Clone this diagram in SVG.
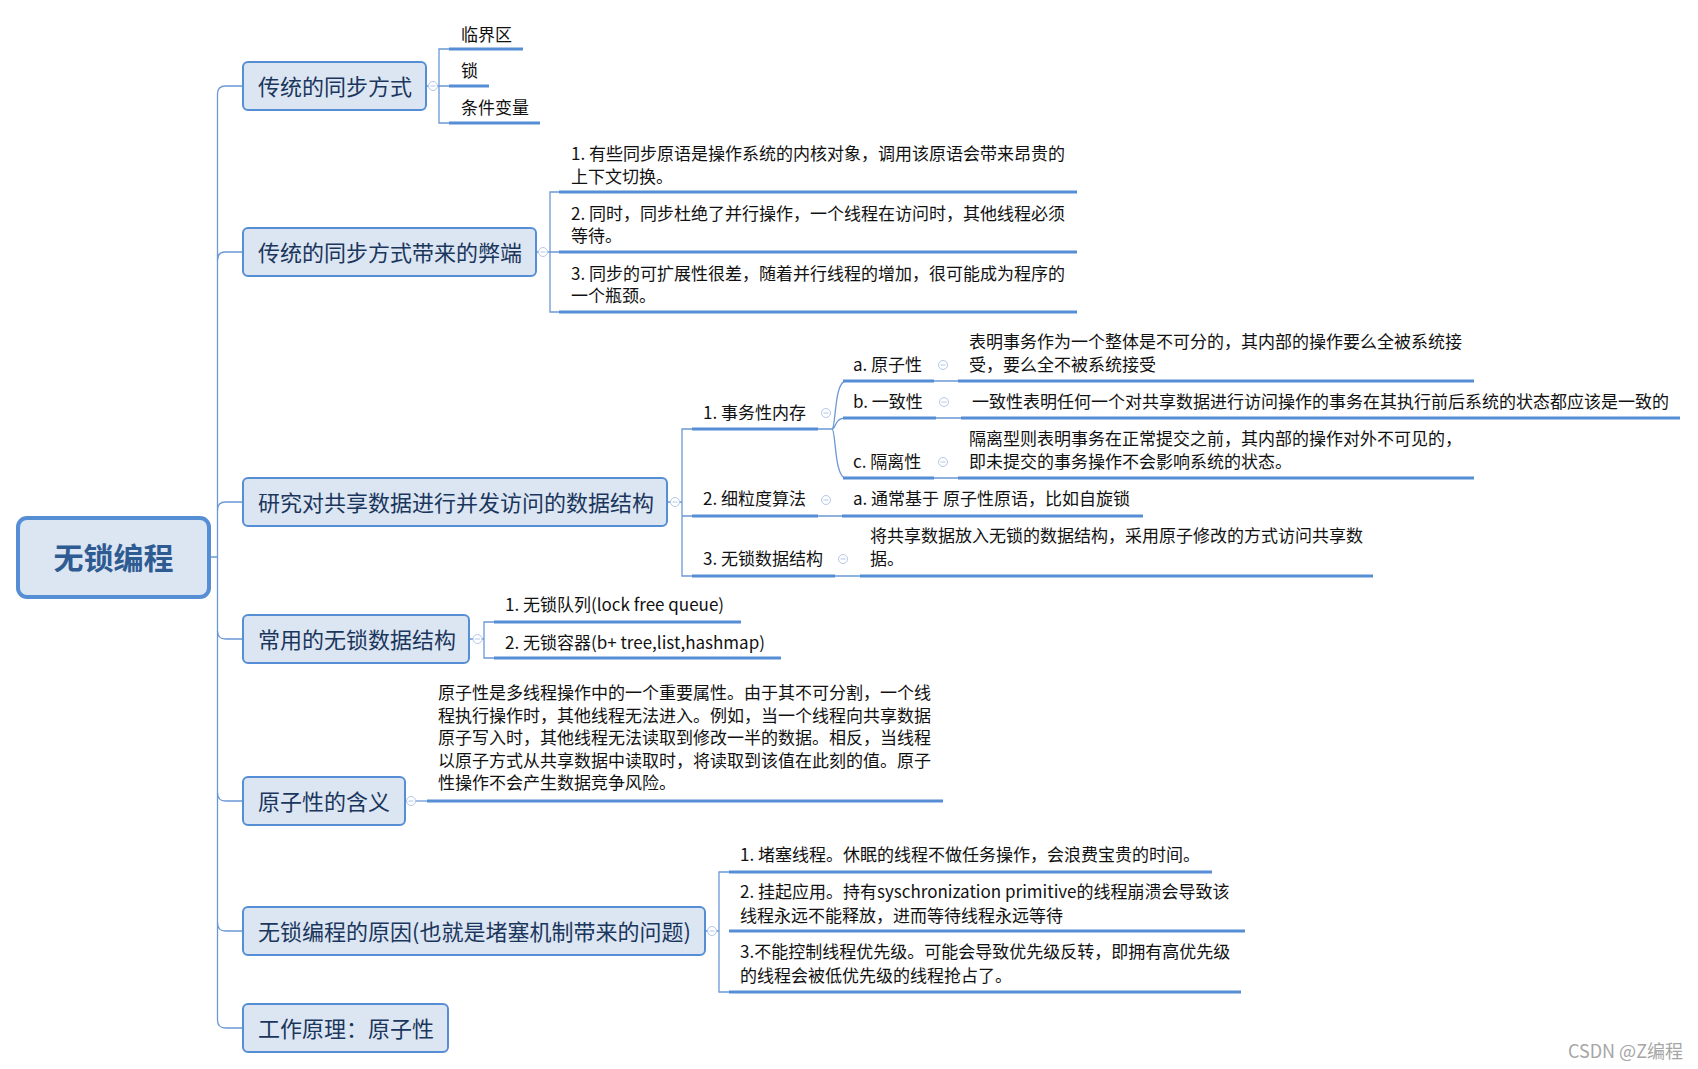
<svg xmlns="http://www.w3.org/2000/svg" width="1698" height="1069" viewBox="0 0 1698 1069">
<style>
text{font-family:"Noto Sans CJK SC","Microsoft YaHei",sans-serif}
.root{fill:#dce6f2;stroke:#558ed5;stroke-width:4}
.box{fill:#dce6f2;stroke:#558ed5;stroke-width:2}
.rt{font-size:30px;font-weight:bold;fill:#2f5b93;text-anchor:middle}
.bt{font-size:22px;fill:#1b365d}
.t{font-size:17px;fill:#111}
.ul{stroke:#558ed5;stroke-width:3;fill:none}
.ln{stroke:#6b98d6;stroke-width:1.3;fill:none}
.col{fill:#fff;stroke:#b4c7e7;stroke-width:1}
.wm{font-size:18px;fill:#a6a6a6;text-anchor:end}
</style>
<defs>
<g id="c"><circle class="col" r="4.5"/><line x1="-2.5" x2="2.5" stroke="#b4c7e7" stroke-width="1"/></g>
</defs>
<g id="connectors">
<path class="ln" d="M209,557 H217.5 M217.5,94 V1020"/>
<path class="ln" d="M217.5,94 Q217.5,86 225.5,86 H243"/>
<path class="ln" d="M217.5,260 Q217.5,252 225.5,252 H243"/>
<path class="ln" d="M217.5,510 Q217.5,502 225.5,502 H243"/>
<path class="ln" d="M217.5,631 Q217.5,639 225.5,639 H243"/>
<path class="ln" d="M217.5,793 Q217.5,801 225.5,801 H243"/>
<path class="ln" d="M217.5,923 Q217.5,931 225.5,931 H243"/>
<path class="ln" d="M217.5,1020 Q217.5,1028 225.5,1028 H243"/>
<path class="ln" d="M449,49 H439 V123 H449 M426,86 H449"/>
<path class="ln" d="M559,192 H550 V312 H559 M536,252 H559"/>
<path class="ln" d="M692,429 H682 V576 H692 M667,502 H682 M682,516 H692"/>
<path class="ln" d="M818,429 H832 M832,429 C836,429 834,381 846,381 M832,429 C836,429 834,418 846,418 M832,429 C836,429 834,478 846,478"/>
<path class="ln" d="M818,516 H842 M835,576 H860"/>
<path class="ln" d="M934,381 H958 M936,418 H961 M934,478 H958"/>
<path class="ln" d="M494,622 H484 V658 H494 M469,639 H484"/>
<path class="ln" d="M405,801 H427"/>
<path class="ln" d="M729,872 H719 V992 H729 M705,931 H719"/>
</g>
<g id="root"><rect class="root" x="18" y="518" width="191" height="79" rx="9"/><text class="rt" x="113.5" y="569">无锁编程</text></g>
<g id="n1"><rect class="box" x="243" y="62" width="183" height="48" rx="5"/><text class="bt" x="258" y="95">传统的同步方式</text><use href="#c" x="433" y="86"/></g>
<g id="n1a"><text class="t" x="461" y="41">临界区</text><line class="ul" x1="449" y1="49" x2="523" y2="49"/></g>
<g id="n1b"><text class="t" x="461" y="77">锁</text><line class="ul" x1="449" y1="86" x2="489" y2="86"/></g>
<g id="n1c"><text class="t" x="461" y="114">条件变量</text><line class="ul" x1="449" y1="123" x2="540" y2="123"/></g>
<g id="n2"><rect class="box" x="243" y="228" width="293" height="48" rx="5"/><text class="bt" x="258" y="261">传统的同步方式带来的弊端</text><use href="#c" x="543" y="252"/></g>
<g id="n2a"><text class="t" x="571" y="160">1. 有些同步原语是操作系统的内核对象，调用该原语会带来昂贵的<tspan x="571" y="183">上下文切换。</tspan></text><line class="ul" x1="559" y1="192" x2="1077" y2="192"/></g>
<g id="n2b"><text class="t" x="571" y="220">2. 同时，同步杜绝了并行操作，一个线程在访问时，其他线程必须<tspan x="571" y="242">等待。</tspan></text><line class="ul" x1="559" y1="252" x2="1077" y2="252"/></g>
<g id="n2c"><text class="t" x="571" y="280">3. 同步的可扩展性很差，随着并行线程的增加，很可能成为程序的<tspan x="571" y="302">一个瓶颈。</tspan></text><line class="ul" x1="559" y1="312" x2="1077" y2="312"/></g>
<g id="n3"><rect class="box" x="243" y="478" width="424" height="48" rx="5"/><text class="bt" x="258" y="511">研究对共享数据进行并发访问的数据结构</text><use href="#c" x="675" y="502"/></g>
<g id="n3a"><text class="t" x="703" y="419">1. 事务性内存</text><line class="ul" x1="692" y1="429" x2="818" y2="429"/><use href="#c" x="826" y="413"/></g>
<g id="n3a1"><text class="t" x="853" y="371">a. 原子性</text><line class="ul" x1="843" y1="381" x2="934" y2="381"/><use href="#c" x="943" y="365"/></g>
<g id="n3a1d"><text class="t" x="969" y="348">表明事务作为一个整体是不可分的，其内部的操作要么全被系统接<tspan x="969" y="371">受，要么全不被系统接受</tspan></text><line class="ul" x1="958" y1="381" x2="1474" y2="381"/></g>
<g id="n3a2"><text class="t" x="853" y="408">b. 一致性</text><line class="ul" x1="843" y1="418" x2="936" y2="418"/><use href="#c" x="944" y="402"/></g>
<g id="n3a2d"><text class="t" x="972" y="408">一致性表明任何一个对共享数据进行访问操作的事务在其执行前后系统的状态都应该是一致的</text><line class="ul" x1="961" y1="418" x2="1680" y2="418"/></g>
<g id="n3a3"><text class="t" x="853" y="468">c. 隔离性</text><line class="ul" x1="843" y1="478" x2="934" y2="478"/><use href="#c" x="943" y="462"/></g>
<g id="n3a3d"><text class="t" x="969" y="445">隔离型则表明事务在正常提交之前，其内部的操作对外不可见的，<tspan x="969" y="468">即未提交的事务操作不会影响系统的状态。</tspan></text><line class="ul" x1="958" y1="478" x2="1474" y2="478"/></g>
<g id="n3b"><text class="t" x="703" y="505">2. 细粒度算法</text><line class="ul" x1="692" y1="516" x2="818" y2="516"/><use href="#c" x="826" y="500"/></g>
<g id="n3b1"><text class="t" x="853" y="505">a. 通常基于 原子性原语，比如自旋锁</text><line class="ul" x1="842" y1="516" x2="1143" y2="516"/></g>
<g id="n3c"><text class="t" x="703" y="565">3. 无锁数据结构</text><line class="ul" x1="692" y1="576" x2="835" y2="576"/><use href="#c" x="843" y="559"/></g>
<g id="n3c1"><text class="t" x="870" y="542">将共享数据放入无锁的数据结构，采用原子修改的方式访问共享数<tspan x="870" y="565">据。</tspan></text><line class="ul" x1="860" y1="576" x2="1373" y2="576"/></g>
<g id="n4"><rect class="box" x="243" y="615" width="226" height="48" rx="5"/><text class="bt" x="258" y="648">常用的无锁数据结构</text><use href="#c" x="477.5" y="639"/></g>
<g id="n4a"><text class="t" x="505" y="611">1. 无锁队列(lock free queue)</text><line class="ul" x1="494" y1="622" x2="741" y2="622"/></g>
<g id="n4b"><text class="t" x="505" y="649">2. 无锁容器(b+ tree,list,hashmap)</text><line class="ul" x1="494" y1="658" x2="781" y2="658"/></g>
<g id="n5"><rect class="box" x="243" y="777" width="162" height="48" rx="5"/><text class="bt" x="258" y="810">原子性的含义</text><use href="#c" x="411" y="801"/></g>
<g id="n5a"><text class="t" x="438" y="699">原子性是多线程操作中的一个重要属性。由于其不可分割，一个线<tspan x="438" y="722">程执行操作时，其他线程无法进入。例如，当一个线程向共享数据</tspan><tspan x="438" y="744">原子写入时，其他线程无法读取到修改一半的数据。相反，当线程</tspan><tspan x="438" y="767">以原子方式从共享数据中读取时，将读取到该值在此刻的值。原子</tspan><tspan x="438" y="789">性操作不会产生数据竞争风险。</tspan></text><line class="ul" x1="427" y1="801" x2="943" y2="801"/></g>
<g id="n6"><rect class="box" x="243" y="907" width="462" height="48" rx="5"/><text class="bt" x="258" y="940">无锁编程的原因(也就是堵塞机制带来的问题)</text><use href="#c" x="712" y="931"/></g>
<g id="n6a"><text class="t" x="740" y="861">1. 堵塞线程。休眠的线程不做任务操作，会浪费宝贵的时间。</text><line class="ul" x1="729" y1="872" x2="1212" y2="872"/></g>
<g id="n6b"><text class="t" x="740" y="898">2. 挂起应用。持有syschronization primitive的线程崩溃会导致该<tspan x="740" y="922">线程永远不能释放，进而等待线程永远等待</tspan></text><line class="ul" x1="729" y1="931" x2="1245" y2="931"/></g>
<g id="n6c"><text class="t" x="740" y="958">3.不能控制线程优先级。可能会导致优先级反转，即拥有高优先级<tspan x="740" y="982">的线程会被低优先级的线程抢占了。</tspan></text><line class="ul" x1="729" y1="992" x2="1241" y2="992"/></g>
<g id="n7"><rect class="box" x="243" y="1004" width="205" height="48" rx="5"/><text class="bt" x="258" y="1037">工作原理：原子性</text></g>
<text class="wm" x="1683" y="1058">CSDN @Z编程</text>
</svg>
